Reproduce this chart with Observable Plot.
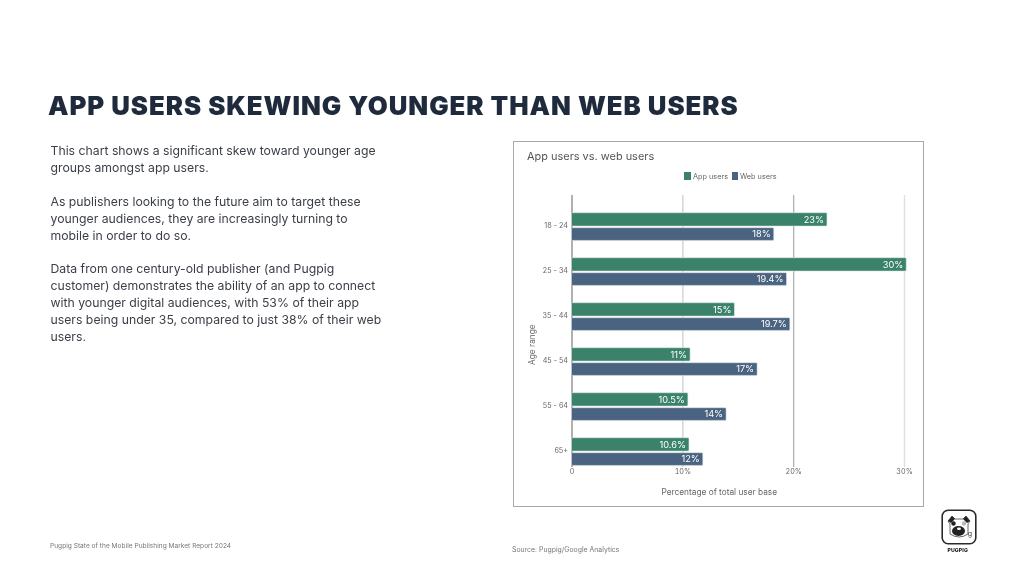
<!DOCTYPE html>
<html><head><meta charset="utf-8">
<script src="https://cdn.jsdelivr.net/npm/d3@7"></script>
<script src="https://cdn.jsdelivr.net/npm/@observablehq/plot@0.6"></script>
<style>
html,body{margin:0;padding:0;background:#fff;width:1024px;height:574px;overflow:hidden}
body{position:relative;font-family:Inter,sans-serif}
#root{position:absolute;left:0;top:0;width:1024px;height:574px;filter:blur(0.3px)}
.t{position:absolute;white-space:nowrap}
#frame{position:absolute;left:513px;top:141px;width:409px;height:364px;border:1px solid #a8a8a8;box-sizing:content-box}
#chart svg{display:block;overflow:visible}
</style></head><body>
<div id="root"></div>
<script>
const ages = ["18 - 24","25 - 34","35 - 44","45 - 54","55 - 64","65+"];
const appValues = [23.05,30.2,14.7,10.7,10.5,10.6];
const webValues = [18.25,19.4,19.7,16.75,13.95,11.85];
const appLabels = ["23%","30%","15%","11%","10.5%","10.6%"];
const webLabels = ["18%","19.4%","19.7%","17%","14%","12%"];
const gridTicks = [0,10,20,30];
const gridColors = ["#8f8f8f","#d2d2d2","#b4b4b4","#e0e0e0"];
const tickLabels = ["0","10%","20%","30%"];
const seriesNames = ["App users","Web users"];
const seriesColors = ["#3a836a","#4a6380"];
const titleText = "APP USERS SKEWING YOUNGER THAN WEB USERS";
const bodyLines = [
 ["This chart shows a significant skew toward younger age",150],
 ["groups amongst app users.",167],
 ["As publishers looking to the future aim to target these",201],
 ["younger audiences, they are increasingly turning to",218],
 ["mobile in order to do so.",235],
 ["Data from one century-old publisher (and Pugpig",268],
 ["customer) demonstrates the ability of an app to connect",285],
 ["with younger digital audiences, with 53% of their app",302],
 ["users being under 35, compared to just 38% of their web",319],
 ["users.",336]
];

const root = document.getElementById("root");
function addText(txt,left,cy,css){
  const d=document.createElement("div");d.className="t";d.textContent=txt;
  d.style.cssText=`left:${left}px;top:${cy}px;transform:translateY(-50%);`+css;
  root.appendChild(d);return d;
}
addText(titleText,48,105,"font-size:25.8px;font-weight:900;color:#1f2b3d;letter-spacing:0.95px");
bodyLines.forEach(([s,y])=>addText(s,50.5,y,"font-size:12.25px;color:#3a3f47;font-weight:400"));
addText("Pugpig State of the Mobile Publishing Market Report 2024",50,546,"font-size:6.6px;color:#777");
addText("Source: Pugpig/Google Analytics",512,549,"font-size:6.9px;color:#777");

const frame=document.createElement("div");frame.id="frame";root.appendChild(frame);
const chart=document.createElement("div");chart.id="chart";chart.style.cssText="position:absolute;left:513px;top:141px";root.appendChild(chart);

addText("App users vs. web users",527,156,"font-size:10.95px;color:#555");
const lg=[[684.3,693,seriesNames[0],seriesColors[0]],[731.5,740,seriesNames[1],seriesColors[1]]];
lg.forEach(([sx,tx,n,c])=>{
  const s=document.createElement("div");
  s.style.cssText=`position:absolute;left:${sx}px;top:171.5px;width:6.5px;height:8.5px;background:${c}`;
  root.appendChild(s);
  addText(n,tx,175.8,"font-size:7.3px;color:#666");
});

const rows = ages.map((age,i)=>({age,app:appValues[i],web:webValues[i],appL:appLabels[i],webL:webLabels[i]}));
const grid = gridTicks.map((v,i)=>({v,c:gridColors[i]}));
const font="Inter,sans-serif";

const plot = Plot.plot({
  width:410,height:366,
  marginLeft:58.5,marginRight:19,marginTop:62.3,marginBottom:32,
  style:{background:"transparent",fontFamily:font,overflow:"visible"},
  x:{domain:[0,30]},
  y:{domain:ages,padding:0,align:0.5},
  marks:[
    Plot.ruleX(grid,{x:"v",stroke:"c",strokeWidth:1.4,insetTop:-8.3,insetBottom:8}),
    Plot.barX(rows,{x:"app",y:"age",fill:seriesColors[0],insetTop:8.7,insetBottom:22.9,rx:1,stroke:"#dfe6e6",strokeWidth:0.6}),
    Plot.barX(rows,{x:"web",y:"age",fill:seriesColors[1],insetTop:23.7,insetBottom:8.6,rx:1,stroke:"#dfe6e6",strokeWidth:0.6}),
    Plot.text(rows,{x:"app",y:"age",text:"appL",dy:-7,dx:-3.5,textAnchor:"end",fill:"white",fontSize:9.2}),
    Plot.text(rows,{x:"web",y:"age",text:"webL",dy:7.3,dx:-3.5,textAnchor:"end",fill:"white",fontSize:9.2}),
    Plot.axisY({tickSize:0,tickPadding:4,label:null,fontSize:7.2,fill:"#666",dy:-1}),
    Plot.axisX({ticks:gridTicks,tickSize:0,tickPadding:0,label:null,tickFormat:(d)=>tickLabels[gridTicks.indexOf(d)],fontSize:7.2,fill:"#666",dy:-6.5}),
    Plot.text(["Percentage of total user base"],{frameAnchor:"bottom",lineAnchor:"middle",dx:-19,dy:17,fill:"#666",fontSize:8.3}),
    Plot.text(["Age range"],{frameAnchor:"left",textAnchor:"middle",lineAnchor:"middle",rotate:-90,dx:-40,dy:5,fill:"#666",fontSize:8.3})
  ]
});
chart.appendChild(plot);

// Pugpig logo
const logo=document.createElement("div");
logo.style.cssText="position:absolute;left:941px;top:509px;width:36px;height:36px";
logo.innerHTML=`<svg width="36" height="36" viewBox="0 0 36 36" xmlns="http://www.w3.org/2000/svg">
<rect x="1.2" y="1.2" width="33.6" height="33.6" rx="6" fill="#fff" stroke="#2a2a2a" stroke-width="1.6"/>
<path d="M7 12 L11 7 L14 10 L22 10 L25 7 L29 12 L27 15 L27 25 Q18 31 9 25 L9 15 Z" fill="#fff" stroke="#444" stroke-width="0.8"/>
<path d="M7 12 L11 7 L14 10 L10 14 Z M29 12 L25 7 L22 10 L26 14 Z" fill="#222"/>
<circle cx="12.5" cy="14.5" r="2.2" fill="#222"/><circle cx="23" cy="14.5" r="2.2" fill="#bbb"/>
<ellipse cx="17.5" cy="22" rx="6.5" ry="5" fill="#222"/><ellipse cx="18" cy="19.8" rx="2" ry="1.2" fill="#fff"/>
<text x="29" y="27" font-size="7" font-family="Inter,sans-serif" fill="#333" text-anchor="middle">g</text>
</svg>`;
root.appendChild(logo);
addText("PUGPIG",947.5,549.5,"font-size:5.2px;font-weight:800;color:#222;letter-spacing:0.1px");
</script>
</body></html>
